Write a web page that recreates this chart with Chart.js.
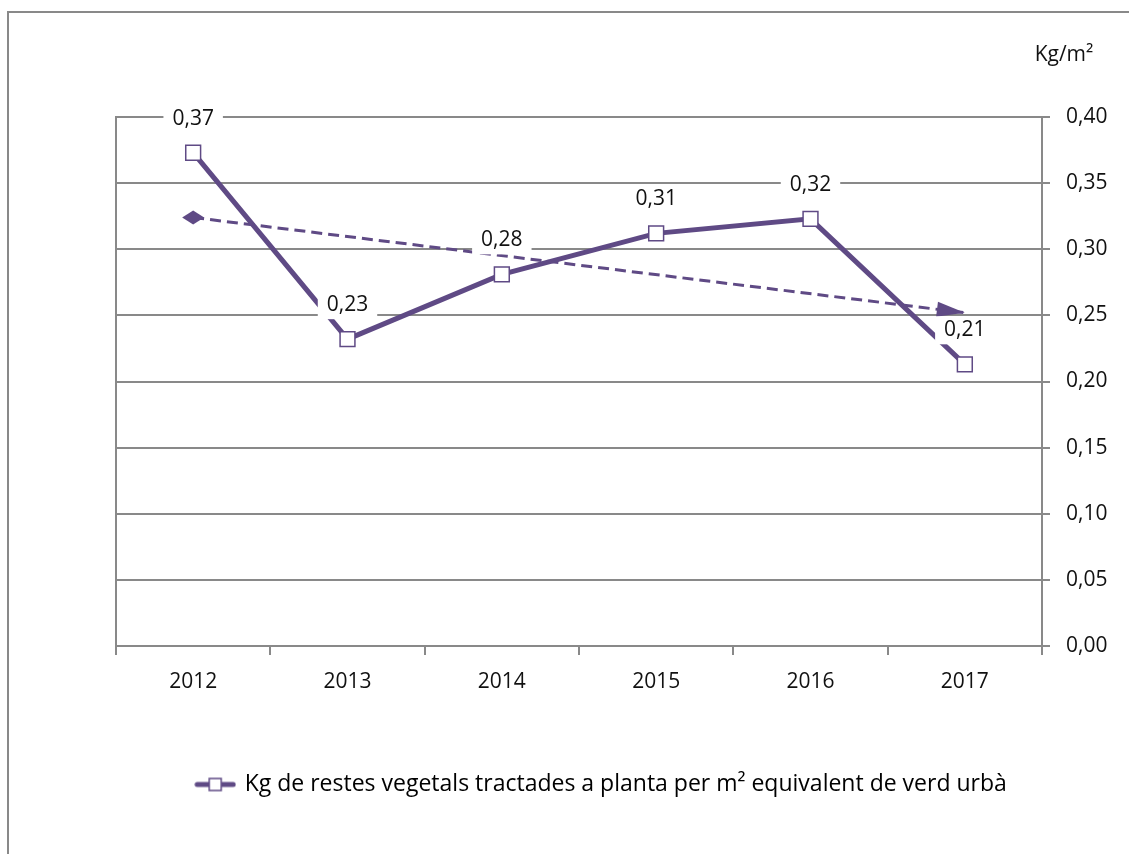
<!DOCTYPE html>
<html>
<head>
<meta charset="utf-8">
<script src="https://cdn.jsdelivr.net/npm/chart.js@4"></script>
<style>
  html, body { margin: 0; padding: 0; background: #fff; }
  #wrap { width: 1129px; height: 854px; }
</style>
</head>
<body>
<div id="wrap"><canvas id="myChart" width="1129" height="854"></canvas></div>
<script>
// data
var years = ["2012", "2013", "2014", "2015", "2016", "2017"];
var kgPerM2 = [0.373, 0.232, 0.281, 0.312, 0.323, 0.213];
var trend = [0.324, null, null, null, null, 0.252];
var yTicks = [0, 0.05, 0.10, 0.15, 0.20, 0.25, 0.30, 0.35, 0.40];
var seriesName = "Kg de restes vegetals tractades a planta per m² equivalent de verd urbà";
var unitLabel = "Kg/m²";

var purple = '#5f4a85';
var gridGray = '#898989';
var fontFamily = '"Open Sans", Lato, sans-serif';

function fmt(v){
    return v.toFixed(2).replace('.', ',');
}

// legend symbol: thick line with a hollow square
var legendIcon = document.createElement('canvas');
legendIcon.width = 42;
legendIcon.height = 18;
(function(){
    var c = legendIcon.getContext('2d');
    c.strokeStyle = purple;
    c.lineWidth = 5;
    c.lineCap = 'round';
    c.beginPath();
    c.moveTo(3, 9);
    c.lineTo(39, 9);
    c.stroke();
    c.fillStyle = '#fff';
    c.lineWidth = 1.5;
    c.fillRect(15, 3, 12, 12);
    c.strokeRect(15, 3, 12, 12);
})();

var frame = {
    id: 'frame',
    beforeDraw: function(chart){
        var c = chart.ctx;
        c.save();
        c.fillStyle = '#fff';
        c.fillRect(0, 0, chart.width, chart.height);
        c.strokeStyle = gridGray;
        c.lineWidth = 2;
        c.beginPath();
        c.moveTo(8, chart.height);
        c.lineTo(8, 12);
        c.lineTo(chart.width, 12);
        c.stroke();
        // unit above the right axis
        c.fillStyle = '#111';
        c.font = '21px ' + fontFamily;
        c.textAlign = 'center';
        c.textBaseline = 'middle';
        c.fillText(unitLabel, chart.chartArea.right + 22, chart.chartArea.top - 62);
        c.restore();
    }
};

var trendMarks = {
    id: 'trendMarks',
    afterDatasetsDraw: function(chart){
        var meta = chart.getDatasetMeta(1);
        var p0 = meta.data[0], p1 = meta.data[meta.data.length - 1];
        var c = chart.ctx;
        c.save();
        c.fillStyle = purple;
        // diamond at the start
        c.beginPath();
        c.moveTo(p0.x - 11, p0.y);
        c.lineTo(p0.x, p0.y - 7);
        c.lineTo(p0.x + 11, p0.y);
        c.lineTo(p0.x, p0.y + 7);
        c.closePath();
        c.fill();
        // arrow head at the end
        var ang = Math.atan2(p1.y - p0.y, p1.x - p0.x);
        c.translate(p1.x, p1.y);
        c.rotate(ang);
        c.beginPath();
        c.moveTo(0, 0);
        c.lineTo(-28, -7.5);
        c.lineTo(-28, 7.5);
        c.closePath();
        c.fill();
        c.restore();
    }
};

var valueLabels = {
    id: 'valueLabels',
    afterDatasetsDraw: function(chart){
        var meta = chart.getDatasetMeta(0);
        var c = chart.ctx;
        c.save();
        c.font = '21px ' + fontFamily;
        c.textAlign = 'center';
        c.textBaseline = 'middle';
        meta.data.forEach(function(pt, i){
            var txt = fmt(kgPerM2[i]);
            var w = c.measureText(txt).width + 18;
            var y = pt.y - 34;
            c.fillStyle = '#fff';
            c.fillRect(pt.x - w / 2, y - 14, w, 28);
            c.fillStyle = '#111';
            c.fillText(txt, pt.x, y);
        });
        c.restore();
    }
};

var ctx = document.getElementById('myChart').getContext('2d');
var chart = new Chart(ctx, {
    type: 'line',
    data: {
        labels: years,
        datasets: [{
            label: seriesName,
            data: kgPerM2,
            borderColor: purple,
            backgroundColor: '#fff',
            borderWidth: 5,
            pointStyle: 'rect',
            pointRadius: 10.5,
            pointBorderWidth: 1.5,
            pointBorderColor: purple,
            pointBackgroundColor: '#fff',
            tension: 0
        }, {
            label: 'trend',
            data: trend,
            spanGaps: true,
            borderColor: purple,
            borderWidth: 3,
            borderDash: [11, 6],
            pointRadius: 0,
            tension: 0
        }]
    },
    options: {
        responsive: false,
        animation: false,
        events: [],
        layout: { padding: { left: 75, right: 0, top: 117, bottom: 48 } },
        plugins: {
            tooltip: { enabled: false },
            legend: {
                position: 'bottom',
                labels: {
                    usePointStyle: true,
                    pointStyleWidth: 36,
                    padding: 10,
                    color: '#111',
                    font: { family: fontFamily, size: 23 },
                    filter: function(item){ return item.datasetIndex === 0; },
                    generateLabels: function(ch){
                        return [{
                            text: seriesName,
                            pointStyle: legendIcon,
                            fillStyle: '#fff',
                            strokeStyle: purple,
                            lineWidth: 0,
                            datasetIndex: 0
                        }];
                    }
                }
            }
        },
        scales: {
            x: {
                type: 'category',
                offset: true,
                grid: { offset: true, drawOnChartArea: false, color: gridGray, lineWidth: 2, tickLength: 9 },
                border: { display: true, color: gridGray, width: 2 },
                ticks: { color: '#111', padding: 14, font: { family: fontFamily, size: 21 } },
                afterFit: function(s){ s.height = 117; }
            },
            y: {
                position: 'right',
                min: 0,
                max: 0.4,
                afterBuildTicks: function(s){ s.ticks = yTicks.map(function(v){ return { value: v }; }); },
                grid: { color: gridGray, lineWidth: 2, tickLength: 8 },
                border: { display: true, color: gridGray, width: 2 },
                ticks: {
                    color: '#111',
                    padding: 16,
                    font: { family: fontFamily, size: 21 },
                    callback: function(v){ return fmt(v); }
                },
                afterFit: function(s){ s.width = 87; }
            },
            yLeft: {
                position: 'left',
                display: true,
                grid: { display: false },
                border: { display: true, color: gridGray, width: 2 },
                ticks: { display: false },
                afterFit: function(s){ s.width = 41; }
            }
        }
    },
    plugins: [frame, trendMarks, valueLabels]
});
</script>
</body>
</html>
